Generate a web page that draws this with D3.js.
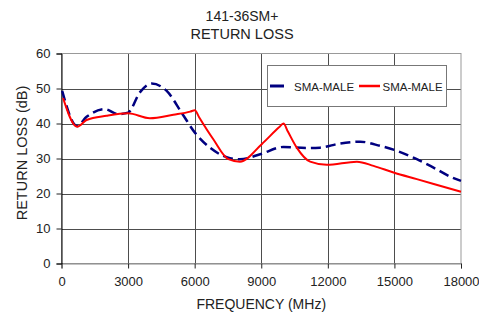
<!DOCTYPE html>
<html>
<head>
<meta charset="utf-8">
<script src="https://cdn.jsdelivr.net/npm/d3@7"></script>
<style>
  body { margin: 0; background: #fff; }
  text { font-family: "Liberation Sans", Arial, sans-serif; fill: #222; }
</style>
</head>
<body>
<div id="chart"></div>
<script>
// frequency (MHz) / return loss (dB)
const blueFreq = [30, 700, 1130, 1950, 2550, 3000, 3530, 4060, 4740, 5410, 6010, 6690, 7590, 8040, 8950, 10000, 11050, 11650, 12550, 13460, 14360, 15110, 16010, 16760, 17590, 18000];
const blueLoss = [49.3, 39.3, 41.9, 44.1, 42.7, 43.1, 48.9, 51.4, 49.3, 43.1, 37.4, 33.1, 30.1, 29.8, 31.2, 33.3, 33.0, 33.1, 34.3, 34.8, 33.6, 32.2, 29.8, 27.4, 24.6, 23.6];
const redFreq = [70, 700, 1130, 2030, 3000, 3980, 5040, 5800, 6010, 6200, 6840, 7520, 8040, 9020, 9800, 10000, 10200, 10600, 11200, 11950, 13310, 14060, 14960, 16010, 18000];
const redLoss = [47.3, 39.1, 41.0, 42.2, 42.9, 41.5, 42.5, 43.4, 43.8, 41.8, 35.5, 29.8, 29.1, 34.1, 38.9, 40.0, 37.7, 33.1, 29.1, 28.2, 29.1, 27.9, 26.0, 24.1, 20.5];
const xTicks = [0, 3000, 6000, 9000, 12000, 15000, 18000];
const yTicks = [0, 10, 20, 30, 40, 50, 60];
const seriesNames = ["SMA-MALE", "SMA-MALE"];

const width = 479, height = 312;
const margin = { left: 61.5, right: 18, top: 53.5, bottom: 48.5 };

const svg = d3.select("#chart").append("svg")
    .attr("width", width)
    .attr("height", height);

const x = d3.scaleLinear().domain([0, 18000]).range([margin.left, width - margin.right]);
const y = d3.scaleLinear().domain([0, 60]).range([height - margin.bottom, margin.top]);

// grid
svg.append("g")
    .selectAll("line.vg")
    .data(xTicks.slice(1, -1))
    .enter().append("line")
    .attr("x1", d => Math.round(x(d)) + 0.5).attr("x2", d => Math.round(x(d)) + 0.5)
    .attr("y1", y(60)).attr("y2", y(0))
    .attr("stroke", "#4d4d4d");

svg.append("g")
    .selectAll("line.hg")
    .data(yTicks.slice(1, -1))
    .enter().append("line")
    .attr("x1", x(0)).attr("x2", x(18000))
    .attr("y1", d => Math.round(y(d)) + 0.5).attr("y2", d => Math.round(y(d)) + 0.5)
    .attr("stroke", "#4d4d4d");

// plot border
svg.append("rect")
    .attr("x", x(0)).attr("y", y(60))
    .attr("width", x(18000) - x(0)).attr("height", y(0) - y(60))
    .attr("fill", "none")
    .attr("stroke", "#999");

// axes
const xAxis = svg.append("g")
    .attr("transform", `translate(0, ${y(0)})`)
    .call(d3.axisBottom(x).tickValues(xTicks).tickSize(5).tickPadding(8).tickFormat(d3.format("d")));
xAxis.select(".domain").attr("stroke", "#888");
xAxis.selectAll(".tick line").attr("stroke", "#222");
xAxis.selectAll("text").style("font-size", "13px").attr("fill", "#222");

const yAxis = svg.append("g")
    .attr("transform", `translate(${x(0)}, 0)`)
    .call(d3.axisLeft(y).tickValues(yTicks).tickSize(5).tickPadding(6));
yAxis.select(".domain").attr("stroke", "#000");
yAxis.selectAll(".tick line").attr("stroke", "#222");
yAxis.selectAll("text").style("font-size", "13px").attr("fill", "#222");

// lines
const line = d3.line()
    .x(d => x(d[0]))
    .y(d => y(d[1]))
    .curve(d3.curveMonotoneX);

svg.append("path")
    .datum(d3.zip(blueFreq, blueLoss))
    .attr("d", line)
    .attr("fill", "none")
    .attr("stroke", "#000080")
    .attr("stroke-width", 2.5)
    .attr("stroke-dasharray", "10,5");

svg.append("path")
    .datum(d3.zip(redFreq, redLoss))
    .attr("d", line)
    .attr("fill", "none")
    .attr("stroke", "#ff0000")
    .attr("stroke-width", 2);

// titles
svg.append("text")
    .attr("x", 242).attr("y", 20.5)
    .attr("text-anchor", "middle")
    .style("font-size", "14px")
    .text("141-36SM+");

svg.append("text")
    .attr("x", 242).attr("y", 38.5)
    .attr("text-anchor", "middle")
    .style("font-size", "14.5px")
    .text("RETURN LOSS");

svg.append("text")
    .attr("x", (x(0) + x(18000)) / 2).attr("y", 308.5)
    .attr("text-anchor", "middle")
    .style("font-size", "14px")
    .text("FREQUENCY (MHz)");

svg.append("text")
    .attr("transform", "rotate(-90)")
    .attr("x", -153).attr("y", 26.5)
    .attr("text-anchor", "middle")
    .style("font-size", "14.5px")
    .text("RETURN LOSS (dB)");

// legend
const legend = svg.append("g");
legend.append("rect")
    .attr("x", 267.5).attr("y", 65.5)
    .attr("width", 179).attr("height", 41)
    .attr("fill", "#fff")
    .attr("stroke", "#777");

const legendItems = [
    { name: seriesNames[0], color: "#000080", width: 2.5, x1: 270, x2: 284, tx: 294 },
    { name: seriesNames[1], color: "#ff0000", width: 2, x1: 359, x2: 380, tx: 382.5 }
];
legendItems.forEach(item => {
    legend.append("line")
        .attr("x1", item.x1).attr("x2", item.x2)
        .attr("y1", 86).attr("y2", 86)
        .attr("stroke", item.color)
        .attr("stroke-width", item.width + 0.5);
    legend.append("text")
        .attr("x", item.tx).attr("y", 90.5)
        .style("font-size", "11.5px")
        .text(item.name);
});
</script>
</body>
</html>
